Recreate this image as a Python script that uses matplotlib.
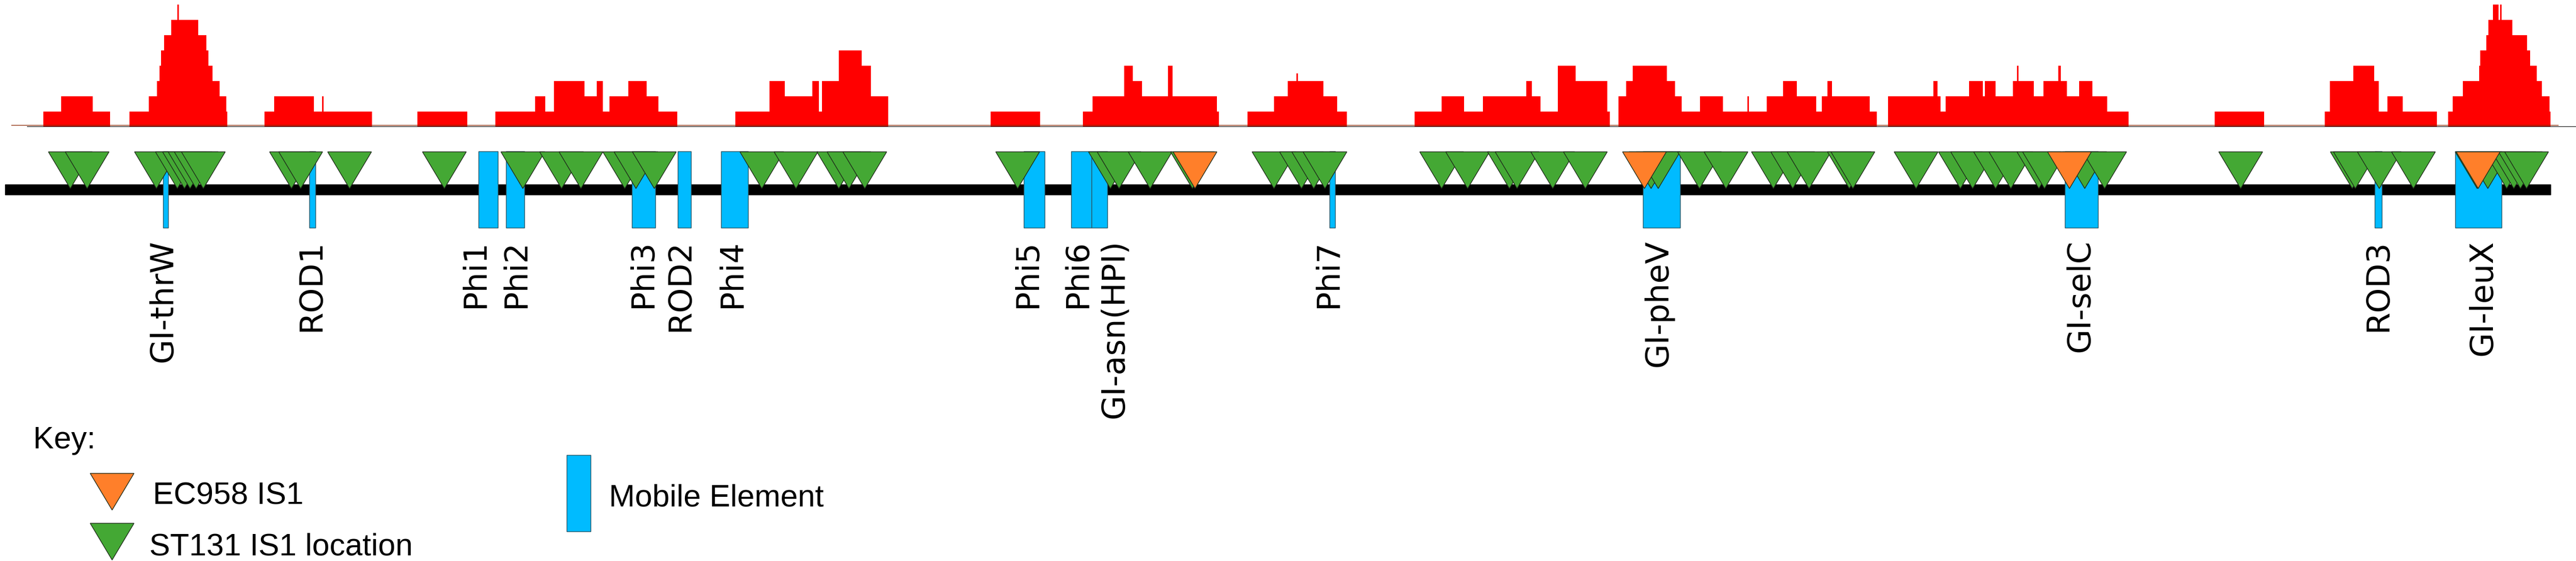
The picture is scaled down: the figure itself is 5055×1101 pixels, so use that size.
import matplotlib
matplotlib.use('Agg')
import matplotlib.pyplot as plt
from matplotlib.patches import Polygon, Rectangle

plt.rcParams['font.family'] = ['DejaVu Sans']

# genome positions are in the scaled units of the drawing (0 .. 5055)
GENOME_START = 10
GENOME_END = 5005

# IS1 read coverage, step profile: interval i runs cov_edges[i] .. cov_edges[i+1]
cov_edges = [85, 120, 182, 216, 254, 292, 308, 313, 316, 322, 336, 348, 351, 389, 405, 409, 417, 431, 444, 446,
             519, 538, 616, 632, 635, 730, 819, 917, 972, 1050, 1070, 1087, 1147, 1171, 1183, 1196, 1233, 1269, 1292, 1329,
             1443, 1510, 1540, 1594, 1607, 1613, 1646, 1691, 1709, 1743, 1944, 2041, 2125, 2144, 2206, 2223, 2241, 2292, 2301, 2388, 2392,
             2448, 2500, 2527, 2544, 2547, 2597, 2624, 2643, 2776, 2829, 2873, 2910, 2995, 3006, 3023, 3057, 3092, 3154, 3159,
             3176, 3191, 3204, 3271, 3287, 3300, 3336, 3381, 3429, 3432, 3467, 3499, 3526, 3564, 3575, 3586, 3595, 3669, 3683,
             3705, 3794, 3802, 3808, 3818, 3864, 3891, 3895, 3916, 3950, 3958, 3961, 3991, 4010, 4039, 4044, 4056, 4080, 4106, 4135, 4177,
             4346, 4443, 4562, 4572, 4618, 4659, 4668, 4685, 4715, 4782,
             4804, 4813, 4833, 4865, 4867, 4879, 4883, 4892, 4903, 4906, 4909, 4930, 4959, 4965, 4978, 4988, 5003, 5005]
cov_level = [1, 2, 1, 0, 1, 2, 3, 4, 5, 6, 7, 8, 7, 6, 5, 4, 3, 2, 1, 0,
             1, 2, 1, 2, 1, 0, 1, 0, 1, 2, 1, 3, 2, 3, 1, 2, 3, 2, 1, 0,
             1, 3, 2, 3, 1, 3, 5, 4, 2, 0, 1, 0, 1, 2, 4, 3, 2, 4, 2, 1, 0,
             1, 2, 3, 3.5, 3, 2, 1, 0, 1, 2, 1, 2, 3, 2, 1, 4, 3, 1, 0,
             2, 3, 4, 3, 2, 1, 2, 1, 2, 1, 2, 3, 2, 1, 2, 3, 2, 1, 0,
             2, 3, 2, 1, 2, 3, 2, 3, 2, 3, 4, 3, 2, 3, 4, 3, 2, 3, 2, 1, 0,
             1, 0, 1, 3, 4, 3, 1, 2, 1, 0,
             1, 2, 3, 4, 5, 6, 7, 8, 7, 8, 7, 6, 5, 4, 3, 2, 1]

# IS1 insertion sites
st131_sites = [138, 171, 307, 348, 362, 373, 385, 399, 572, 590, 686, 872, 1026, 1102, 1140, 1226, 1248, 1284,
               1495, 1562, 1646, 1666, 1697, 1997, 2179, 2196, 2257, 2340, 2500, 2554, 2578, 2600,
               2829, 2880, 2962, 2977, 3047, 3111, 3240, 3254, 3335, 3387, 3480, 3518, 3550, 3629, 3636,
               3760, 3847, 3871, 3916, 3946, 4001, 4012, 4091, 4130, 4397, 4616, 4622, 4669, 4736,
               4861, 4882, 4919, 4933, 4946, 4958]
ec958_sites = [2345, 3227, 4061, 4863]

# mobile elements
me_names = ['GI-thrW', 'ROD1', 'Phi1', 'Phi2', 'Phi3', 'ROD2', 'Phi4', 'Phi5', 'Phi6', 'GI-asn(HPI)',
            'Phi7', 'GI-pheV', 'GI-selC', 'ROD3', 'GI-leuX']
me_start = [320, 607, 939, 993, 1240, 1330, 1415, 2009, 2102, 2142, 2609, 3224, 4052, 4660, 4818]
me_end = [330, 619, 977, 1029, 1286, 1356, 1468, 2050, 2142, 2173, 2620, 3297, 4117, 4674, 4909]
me_label_x = [321, 611, 932, 1012, 1262, 1335, 1436, 2017, 2115, 2187, 2606, 3254, 4082, 4667, 4873]

RED = '#ff0000'
GREEN = '#44a834'
ORANGE = '#ff7f2a'
BLUE = '#00bbff'

W, H = 5055, 1101
fig = plt.figure(figsize=(W / 100, H / 100), dpi=100)

# coverage track
axh = fig.add_axes([0, 1 - 249 / H, 1, 240 / H])
axh.stairs(cov_level, cov_edges, fill=True, color=RED, lw=0)
axh.plot([23, 5020], [0.1, 0.1], color='#8b2500', lw=1.2, alpha=0.8)
axh.plot([54, W], [0, 0], color='black', lw=1.5)
axh.set_xlim(0, W)
axh.set_ylim(0, 8)
axh.axis('off')

# genome track (y in drawing units, downwards)
ax = fig.add_axes([0, 0, 1, 1])
ax.set_xlim(0, W)
ax.set_ylim(H, 0)
ax.axis('off')

ax.add_patch(Rectangle((GENOME_START, 362), GENOME_END - GENOME_START, 20, color='black', zorder=1))

for s, e in zip(me_start, me_end):
    ax.add_patch(Rectangle((s, 297), e - s, 150, facecolor=BLUE, edgecolor='#2b5565', lw=1, zorder=2))

for name, lx in zip(me_names, me_label_x):
    ax.text(lx, 470, name, rotation=90, ha='center', va='top', fontsize=45, zorder=5)

TRI_W, TRI_H = 86, 72


def tri(x, top, color, z):
    pts = [(x - TRI_W / 2, top), (x + TRI_W / 2, top), (x, top + TRI_H)]
    ax.add_patch(Polygon(pts, closed=True, facecolor=color, edgecolor='#1e2a1a', lw=1.0, zorder=z))


for i, x in enumerate(sorted(st131_sites)):
    tri(x, 298, GREEN, 3 + i * 0.001)
for x in ec958_sites:
    tri(x, 298, ORANGE, 4)

# key
kfont = dict(fontsize=44, family=['Liberation Sans', 'DejaVu Sans'], ha='left', va='baseline')
ax.text(65, 880, 'Key:', **kfont)
tri(220, 929, ORANGE, 3)
ax.text(300, 990, 'EC958 IS1', **kfont)
tri(220, 1027, GREEN, 3)
ax.text(293, 1090, 'ST131 IS1 location', **kfont)
ax.add_patch(Rectangle((1112, 893), 47, 150, facecolor=BLUE, edgecolor='#2b5565', lw=1, zorder=2))
ax.text(1195, 993, 'Mobile Element', **kfont)

fig.savefig('out.png', dpi=100)
